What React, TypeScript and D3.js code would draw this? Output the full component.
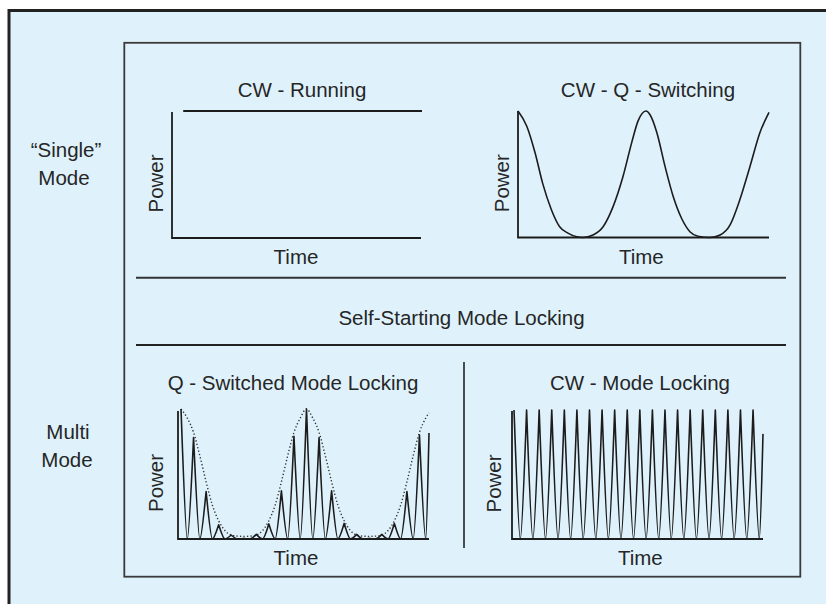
import React from 'react';
import * as d3 from 'd3';

// ---- data ----
const cwRunTime = [4.5, 100.4];
const cwRunPower = [1, 1];

const qsTime = [0, 3.5, 6.8, 9.8, 13.3, 16.6, 19.9, 23.4, 25.9, 29.9, 33.9, 37.8, 41.8, 45.3, 47.8, 51, 52.6, 55.3, 58.6, 61.9, 65.2, 68.5, 71.7, 76.5, 80.5, 84.5, 88.4, 92.4, 96.4, 100];
const qsPower = [1.0, 0.88, 0.67, 0.43, 0.22, 0.085, 0.035, 0.006, 0, 0.02, 0.085, 0.24, 0.48, 0.75, 0.92, 1.0, 0.97, 0.83, 0.56, 0.32, 0.15, 0.046, 0.01, 0, 0.02, 0.1, 0.3, 0.56, 0.83, 0.99];

const qmlPulses = [1.0, 0.78, 0.365, 0.11, 0.03, 0.005, 0.035, 0.116, 0.37, 0.79, 1.0, 0.78, 0.37, 0.12, 0.035, 0.005, 0.035, 0.12, 0.365, 0.8];
const qmlEdge = 0.815;
const qmlEnvK = [0, 0.5, 1, 1.5, 2, 2.5, 3, 3.5, 4, 4.5, 5, 5.5, 6, 6.5, 7, 7.5, 8, 8.5, 9, 9.5, 10, 10.5, 11, 11.5, 12, 12.5, 13, 13.5, 14, 14.5, 15, 15.5, 16, 16.5, 17, 17.5, 18, 18.5, 19, 19.5, 19.76];
const qmlEnvP = [1, 0.93, 0.82, 0.64, 0.44, 0.26, 0.14, 0.065, 0.03, 0.022, 0.02, 0.022, 0.03, 0.065, 0.14, 0.26, 0.44, 0.64, 0.82, 0.93, 1, 0.93, 0.82, 0.64, 0.44, 0.26, 0.14, 0.065, 0.03, 0.022, 0.02, 0.022, 0.03, 0.065, 0.14, 0.26, 0.44, 0.64, 0.82, 0.93, 0.97];

const cwmlPulses = [1, 1, 1, 1, 1, 1, 1, 1, 1, 1, 1, 1, 1, 1, 1, 1, 1, 1, 1, 1];
const cwmlEdge = 0.815;

const rowLabelSingle = ['\u201CSingle\u201D', 'Mode'];
const rowLabelMulti = ['Multi', 'Mode'];
const panelTitles = ['CW - Running', 'CW - Q - Switching', 'Q - Switched Mode Locking', 'CW - Mode Locking'];
const middleTitle = 'Self-Starting Mode Locking';
const xLabel = 'Time';
const yLabel = 'Power';

// ---- styles ----
const FONT = "'Liberation Sans', Arial, Helvetica, sans-serif";
const FS = 20.5;
const TXT = '#262626';
const INK = '#1c1c1c';
const BG = '#dff2fc';

type Panel = { x0: number; x1: number; base: number; top: number; axisTop: number; domain: [number, number] };

function pulsePoints(heights: number[], edge: number, kEnd: number): [number, number][] {
  const pts: [number, number][] = [];
  heights.forEach((h, i) => {
    pts.push([i, h]);
    pts.push([i + 0.5, 0]);
  });
  pts.push([kEnd, edge]);
  return pts;
}

// pulse train path: sharp peaks, slightly rounded troughs
function pulsePath(pts: [number, number][], x: d3.ScaleLinear<number, number>, y: d3.ScaleLinear<number, number>): string {
  const p = d3.path();
  const px = pts.map(d => [x(d[0]), y(d[1])] as [number, number]);
  p.moveTo(px[0][0], px[0][1]);
  for (let i = 1; i < px.length; i++) {
    const a = px[i - 1], b = px[i];
    const dx = b[0] - a[0], dy = b[1] - a[1];
    if (pts[i][1] === 0) {
      // peak -> trough
      p.bezierCurveTo(a[0] + 0.12 * dx, a[1] + 0.15 * dy, b[0] - 0.3 * dx, b[1], b[0], b[1]);
    } else {
      // trough -> peak
      p.bezierCurveTo(a[0] + 0.3 * dx, a[1], b[0] - 0.12 * dx, b[1] - 0.15 * dy, b[0], b[1]);
    }
  }
  return p.toString();
}

function Axes({ p }: { p: Panel }) {
  const d = `M${p.x0},${p.axisTop}V${p.base}H${p.x1}`;
  return <path d={d} fill="none" stroke={INK} strokeWidth={1.8} />;
}

function AxisLabels({ p, yx, tx }: { p: Panel; yx: number; tx: number }) {
  const ty = p.base + 26;
  const cy = (p.top + p.base) / 2 + 9;
  return (
    <g fontFamily={FONT} fontSize={FS} fill={TXT}>
      <text x={tx} y={ty} textAnchor="middle">{xLabel}</text>
      <text transform={`translate(${yx},${cy}) rotate(-90)`} textAnchor="middle">{yLabel}</text>
    </g>
  );
}

export default function App() {
  const W = 826, H = 604;

  const pTL: Panel = { x0: 172, x1: 421, base: 238, top: 111, axisTop: 112, domain: [0, 100] };
  const pTR: Panel = { x0: 518, x1: 769, base: 237.5, top: 111, axisTop: 111, domain: [0, 100] };
  const pBL: Panel = { x0: 178, x1: 429, base: 539, top: 409, axisTop: 411, domain: [-0.24, 19.76] };
  const pBR: Panel = { x0: 512, x1: 763, base: 539, top: 410, axisTop: 411, domain: [-0.16, 19.79] };

  const sx = (p: Panel) => d3.scaleLinear().domain(p.domain).range([p.x0, p.x1]);
  const sy = (p: Panel) => d3.scaleLinear().domain([0, 1]).range([p.base, p.top]);

  // TL
  const xTL = sx(pTL), yTL = sy(pTL);
  const runLine = d3.line<number>().x((_, i) => xTL(cwRunTime[i])).y((_, i) => yTL(cwRunPower[i]))(cwRunTime) || '';

  // TR
  const xTR = sx(pTR), yTR = sy(pTR);
  const qsLine = d3.line<number>().x((_, i) => xTR(qsTime[i])).y((_, i) => yTR(qsPower[i])).curve(d3.curveMonotoneX)(qsTime) || '';

  // BL
  const xBL = sx(pBL), yBL = sy(pBL);
  const qmlLine = pulsePath(pulsePoints(qmlPulses, qmlEdge, pBL.domain[1]), xBL, yBL);
  const envLine = d3.line<number>().x((_, i) => xBL(qmlEnvK[i])).y((_, i) => yBL(qmlEnvP[i])).curve(d3.curveMonotoneX)(qmlEnvK) || '';

  // BR
  const xBR = sx(pBR), yBR = sy(pBR);
  const cwmlLine = pulsePath(pulsePoints(cwmlPulses, cwmlEdge, pBR.domain[1]), xBR, yBR);

  return (
    <svg width={W} height={H} viewBox={`0 0 ${W} ${H}`} style={{ position: 'absolute', left: 0, top: 0, background: '#ffffff' }}>
      {/* outer frame */}
      <rect x={9} y={10.5} width={W + 20} height={H + 20} fill={BG} stroke="#222" strokeWidth={3} />
      {/* inner box */}
      <rect x={124.3} y={42.8} width={676} height={533.9} fill="none" stroke="#3a3a3a" strokeWidth={1.8} />
      {/* separators */}
      <line x1={136} x2={786} y1={277.7} y2={277.7} stroke="#333" strokeWidth={2} />
      <line x1={136} x2={786} y1={345} y2={345} stroke="#222" strokeWidth={2} />
      <line x1={464} x2={464} y1={362} y2={548} stroke="#222" strokeWidth={1.6} />

      {/* labels */}
      <g fontFamily={FONT} fontSize={FS} fill={TXT} textAnchor="middle">
        <text x={66} y={157.3}>{rowLabelSingle[0]}</text>
        <text x={64} y={185}>{rowLabelSingle[1]}</text>
        <text x={68} y={439.3}>{rowLabelMulti[0]}</text>
        <text x={67} y={466.7}>{rowLabelMulti[1]}</text>
        <text x={302} y={97.3}>{panelTitles[0]}</text>
        <text x={648} y={97.3}>{panelTitles[1]}</text>
        <text x={293} y={390}>{panelTitles[2]}</text>
        <text x={640} y={390}>{panelTitles[3]}</text>
        <text x={461.5} y={325}>{middleTitle}</text>
      </g>

      {/* TL */}
      <Axes p={pTL} />
      <path d={runLine} fill="none" stroke={INK} strokeWidth={1.8} />
      <AxisLabels p={pTL} yx={162.5} tx={296} />

      {/* TR */}
      <Axes p={pTR} />
      <path d={qsLine} fill="none" stroke={INK} strokeWidth={1.6} />
      <AxisLabels p={pTR} yx={509.3} tx={641.3} />

      {/* BL */}
      <Axes p={pBL} />
      <path d={envLine} fill="none" stroke="#333" strokeWidth={1.4} strokeDasharray="1.3 2.2" />
      <path d={qmlLine} fill="none" stroke={INK} strokeWidth={1.6} strokeLinejoin="round" />
      <AxisLabels p={pBL} yx={162.7} tx={296} />

      {/* BR */}
      <Axes p={pBR} />
      <path d={cwmlLine} fill="none" stroke={INK} strokeWidth={1.6} strokeLinejoin="round" />
      <AxisLabels p={pBR} yx={500.7} tx={640.3} />
    </svg>
  );
}
